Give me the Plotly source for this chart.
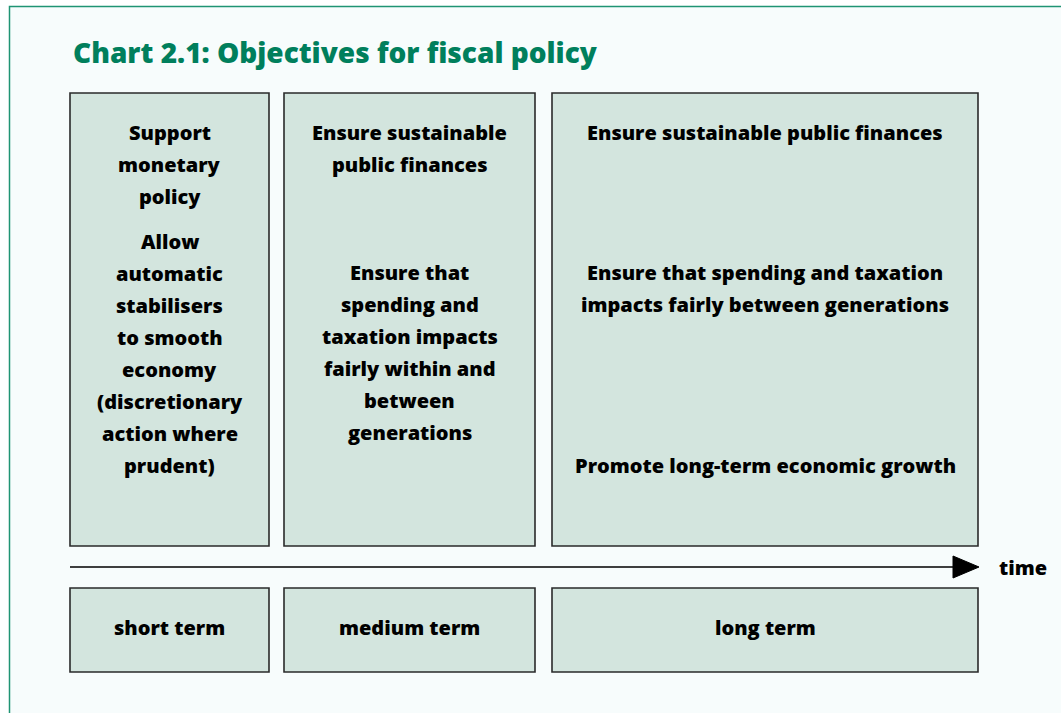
import plotly.graph_objects as go

# ---- data ----
terms = ["short term", "medium term", "long term"]
objectives_short = [
    ["Support", "monetary", "policy"],
    ["Allow", "automatic", "stabilisers", "to smooth", "economy",
     "(discretionary", "action where", "prudent)"],
]
objectives_medium = [
    ["Ensure sustainable", "public finances"],
    ["Ensure that", "spending and", "taxation impacts", "fairly within and",
     "between", "generations"],
]
objectives_long = [
    ["Ensure sustainable public finances"],
    ["Ensure that spending and taxation", "impacts fairly between generations"],
    ["Promote long-term economic growth"],
]
title_text = "Chart 2.1: Objectives for fiscal policy"
axis_label = "time"

# ---- layout constants (pixels) ----
W, H = 1061, 713
box_x = [(70, 269), (284, 535), (552, 978)]
top_y = (93, 546)
bot_y = (588, 672)
arrow_y = 567
block_starts = [[132, 241], [132, 272], [132, 272, 465]]
line_gap = 32

GREEN = "#007f5c"
BOX_FILL = "#d3e5de"
BOX_LINE = "#2a2a2a"
BG = "#f7fcfc"
FONT = "Open Sans"
TXT = 20

fig = go.Figure()
shapes = []
annotations = []

# background frame (top and left border visible)
shapes.append(dict(type="rect", xref="x", yref="y", x0=9.5, x1=W + 20, y0=6.5, y1=H + 20,
                   fillcolor=BG, line=dict(color="#1f9473", width=1.5), layer="below"))

blocks_all = [objectives_short, objectives_medium, objectives_long]
for i, (x0, x1) in enumerate(box_x):
    for (y0, y1) in (top_y, bot_y):
        shapes.append(dict(type="rect", xref="x", yref="y", x0=x0, x1=x1, y0=y0, y1=y1,
                           fillcolor=BOX_FILL, line=dict(color=BOX_LINE, width=1.6)))
    cx = (x0 + x1) / 2
    for block, ystart in zip(blocks_all[i], block_starts[i]):
        for k, line in enumerate(block):
            annotations.append(dict(x=cx, y=ystart + k * line_gap, xref="x", yref="y",
                                    text=line, showarrow=False, xanchor="center", yanchor="middle",
                                    font=dict(family=FONT, size=TXT, color="#000000", weight=800)))
    annotations.append(dict(x=cx, y=(bot_y[0] + bot_y[1]) / 2 - 3, xref="x", yref="y",
                            text=terms[i], showarrow=False, xanchor="center", yanchor="middle",
                            font=dict(family=FONT, size=TXT, color="#000000", weight=800)))

# time arrow
shapes.append(dict(type="line", xref="x", yref="y", x0=box_x[0][0], x1=955, y0=arrow_y, y1=arrow_y,
                   line=dict(color="#000000", width=1.5)))
shapes.append(dict(type="path", xref="x", yref="y",
                   path=f"M 953 {arrow_y - 11} L 979 {arrow_y} L 953 {arrow_y + 11} Z",
                   fillcolor="#000000", line=dict(color="#000000", width=1)))
annotations.append(dict(x=997, y=arrow_y, xref="x", yref="y", text=axis_label, showarrow=False,
                        xanchor="left", yanchor="middle",
                        font=dict(family=FONT, size=TXT, color="#000000", weight=800)))

# title
annotations.append(dict(x=71, y=52, xref="x", yref="y", text=title_text, showarrow=False,
                        xanchor="left", yanchor="middle",
                        font=dict(family=FONT, size=28, color=GREEN, weight=800)))

fig.update_layout(
    width=W, height=H,
    margin=dict(l=0, r=0, t=0, b=0),
    paper_bgcolor="#ffffff", plot_bgcolor="#ffffff",
    xaxis=dict(range=[0, W], visible=False, fixedrange=True),
    yaxis=dict(range=[H, 0], visible=False, fixedrange=True),
    shapes=shapes, annotations=annotations, showlegend=False,
)
fig.write_html("out.html", config={"displayModeBar": False},
               post_script="document.body.style.margin='0';document.body.style.overflow='hidden';")
